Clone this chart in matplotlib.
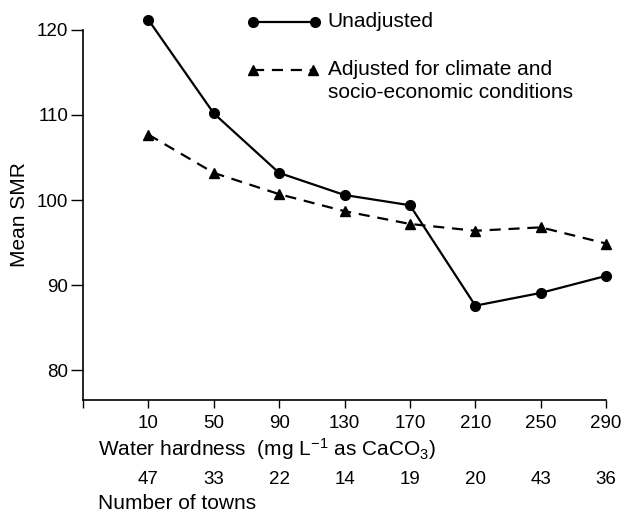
import matplotlib
matplotlib.use("Agg")
import matplotlib.pyplot as plt
from matplotlib.transforms import blended_transform_factory

plt.rcParams['font.family'] = ['Liberation Sans', 'DejaVu Sans']
plt.rcParams['mathtext.default'] = 'regular'

# data
hardness = [10, 50, 90, 130, 170, 210, 250, 290]
unadjusted = [121.2, 110.2, 103.2, 100.6, 99.4, 87.6, 89.1, 91.1]
adjusted = [107.7, 103.2, 100.7, 98.7, 97.2, 96.4, 96.8, 94.9]
n_towns = [47, 33, 22, 14, 19, 20, 43, 36]
y_ticks = [80, 90, 100, 110, 120]

fs_num = 13.5   # tick numbers
fs_txt = 15     # words

fig = plt.figure(figsize=(6.23, 5.15), dpi=100)
ax = fig.add_axes([0.133, 0.223, 0.84, 0.719])

dash = (0, (5, 3.5))
ax.plot(hardness, unadjusted, color='black', lw=1.6, marker='o', ms=7,
        clip_on=False, zorder=3)
ax.plot(hardness, adjusted, color='black', lw=1.6, ls=dash, marker='^',
        ms=7, clip_on=False, zorder=3)

ax.set_xlim(-30, 290)
ax.set_ylim(76.5, 120)
ax.set_xticks([-30] + hardness)
ax.set_xticklabels([''] + [str(h) for h in hardness])
ax.set_yticks(y_ticks)
ax.tick_params(labelsize=fs_num, direction='out', width=1)
ax.tick_params(axis='y', length=9, pad=1.5)
ax.tick_params(axis='x', length=5.5, pad=5)
ax.spines['top'].set_visible(False)
ax.spines['right'].set_visible(False)
for s in ['left', 'bottom']:
    ax.spines[s].set_linewidth(1.2)

ax.set_ylabel('Mean SMR', fontsize=fs_txt, labelpad=6)

# lower labels
trans = blended_transform_factory(ax.transData, ax.transAxes)
ax.text(-21, -0.132, 'Water hardness  (mg L$^{-1}$ as CaCO$_3$)',
        transform=trans, fontsize=fs_txt, va='center', ha='left')
for h, n in zip(hardness, n_towns):
    ax.text(h, -0.213, str(n), transform=trans, fontsize=fs_num,
            va='center', ha='center')
ax.text(-21, -0.279, 'Number of towns', transform=trans, fontsize=fs_txt,
        va='center', ha='left')

# key, drawn by hand so the line sits by the first text line
ax.plot([0.325, 0.4436], [1.0216, 1.0216], transform=ax.transAxes, color='black',
        lw=1.6, marker='o', ms=7, clip_on=False)
ax.text(0.468, 1.0216, 'Unadjusted', transform=ax.transAxes, fontsize=fs_txt,
        va='center', ha='left')
ax.plot([0.325, 0.44], [0.892, 0.892], transform=ax.transAxes, color='black',
        lw=1.6, ls=dash, marker='^', ms=7, clip_on=False)
ax.text(0.468, 0.892, 'Adjusted for climate and', transform=ax.transAxes,
        fontsize=fs_txt, va='center', ha='left')
ax.text(0.468, 0.830, 'socio-economic conditions', transform=ax.transAxes,
        fontsize=fs_txt, va='center', ha='left')

fig.savefig('out.png', dpi=100)
